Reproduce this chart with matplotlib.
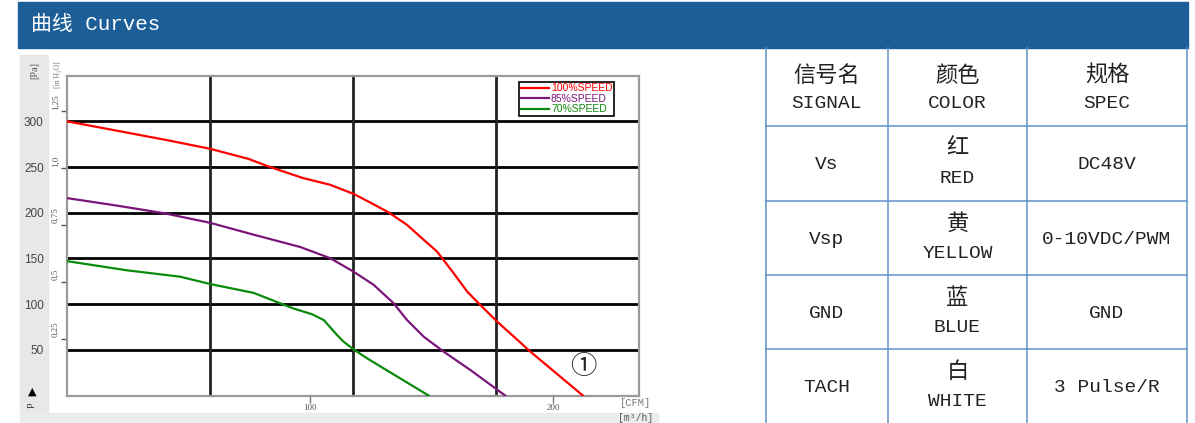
import matplotlib
matplotlib.use("Agg")
import matplotlib.pyplot as plt
import matplotlib.transforms as mtransforms
from matplotlib.patches import Rectangle

plt.rcParams['font.family'] = ['Liberation Mono', 'Noto Sans CJK SC', 'DejaVu Sans']

CFM_PER_M3H = 1 / 1.699
PA_PER_INH2O = 249.09

# curve data (airflow in CFM, pressure in Pa)
red_cfm = [0, 20, 40, 58.8, 74.5, 83.5, 97, 108.2, 117.8, 124.7, 132.3, 139.8, 146.7, 152.2,
           159, 164.6, 170, 176.9, 183.8, 190.6, 212.2]
red_pa = [300, 290, 280, 270, 259, 250, 238, 230.6, 220.7, 211.2, 200.3, 186.8, 170.4, 157.5,
          133.9, 113.7, 99.1, 80.9, 64.4, 48, 0]
purple_cfm = [0, 20, 39.6, 58.8, 75.3, 95.9, 108.2, 117.8, 126.1, 134.3, 139.8, 146.7, 154.9, 165.9, 180.2]
purple_pa = [216, 208, 199.6, 189, 177, 162.5, 150.3, 135.6, 121.1, 101, 82.7, 64.4, 48, 27.9, 0]
green_cfm = [0, 24.6, 46.5, 58.8, 76.7, 93.1, 100.7, 105.6, 108.2, 111, 113.7, 118.1, 123.4, 129, 148.7]
green_pa = [147, 137, 130, 122, 112.3, 95.2, 89, 82.5, 74.7, 66.3, 58.9, 50, 40.7, 31.6, 0]
series_labels = ['100%SPEED', '85%SPEED', '70%SPEED']
series_colors = ['#ff0000', '#7a167a', '#0a8a0a']

pa_ticks = [50, 100, 150, 200, 250, 300]
inh2o_ticks = [0.25, 0.5, 0.75, 1.0, 1.25]
inh2o_labels = ['0,25', '0,5', '0,75', '1,0', '1,25']
m3h_grid = [100, 200, 300]
cfm_ticks = [100, 200]

# wiring table
head_cn = ['信号名', '颜色', '规格']
head_en = ['SIGNAL', 'COLOR', 'SPEC']
signal = ['Vs', 'Vsp', 'GND', 'TACH']
color_cn = ['红', '黄', '蓝', '白']
color_en = ['RED', 'YELLOW', 'BLUE', 'WHITE']
spec = ['DC48V', '0-10VDC/PWM', 'GND', '3 Pulse/R']

W, H = 1195, 423
col_edges = [766, 888, 1027, 1187]
row_edges = [50, 126, 201, 275, 349, 423]
line_col = '#5f92c8'
txt_col = '#222222'


def fig_rect(x0, y0, x1, y1):
    return [x0 / W, 1 - y1 / H, (x1 - x0) / W, (y1 - y0) / H]


fig = plt.figure(figsize=(W / 100, H / 100), dpi=100)
fig.patch.set_facecolor('white')

bg = fig.add_axes([0, 0, 1, 1])
bg.set_xlim(0, W)
bg.set_ylim(H, 0)
bg.axis('off')
bg.set_zorder(0)

# header bar
bg.add_patch(Rectangle((18, 2), 1170, 46, color='#1c5e97'))
bg.text(31, 24, '曲线 Curves', color='white', fontsize=15, va='center', ha='left')

# grey bands of the chart picture
bg.add_patch(Rectangle((20, 55), 28, 358, color='#e8e8e8'))
bg.add_patch(Rectangle((20, 413), 638, 10, color='#ececec'))

serif = ['Liberation Serif', 'DejaVu Serif']
bg.text(35, 62, '[Pa]', rotation=90, ha='center', va='top', fontsize=7.5, family=serif, color='#555')
bg.text(58, 61, '[in H₂O]', rotation=90, ha='center', va='top', fontsize=5.5, family=serif, color='#777')
bg.text(32, 392, '▲', ha='center', va='center', fontsize=8, family='DejaVu Sans', color='black')
bg.text(32, 405, 'P', rotation=90, ha='center', va='center', fontsize=7, family=serif, color='#333')
bg.text(636, 403, '[CFM]', ha='center', va='center', fontsize=7.5, color='#777')
bg.text(636, 418, '[m³/h]', ha='center', va='center', fontsize=7, color='#555')

# table
for x in col_edges:
    bg.plot([x, x], [48, H], color=line_col, lw=1.1)
for y in row_edges[1:-1]:
    bg.plot([col_edges[0], col_edges[-1]], [y, y], color=line_col, lw=1.1)

col_mid = [(col_edges[i] + col_edges[i + 1]) / 2 for i in range(3)]
row_mid = [(row_edges[i] + row_edges[i + 1]) / 2 for i in range(5)]
for i in range(3):
    bg.text(col_mid[i], row_mid[0] - 12, head_cn[i], ha='center', va='center', fontsize=16, color=txt_col)
    bg.text(col_mid[i], row_mid[0] + 15, head_en[i], ha='center', va='center', fontsize=14, color=txt_col)
for r in range(4):
    ym = row_mid[r + 1]
    bg.text(col_mid[0], ym + 1, signal[r], ha='center', va='center', fontsize=14, color=txt_col)
    bg.text(col_mid[1], ym - 14, color_cn[r], ha='center', va='center', fontsize=16, color=txt_col)
    bg.text(col_mid[1], ym + 15, color_en[r], ha='center', va='center', fontsize=14, color=txt_col)
    bg.text(col_mid[2], ym + 1, spec[r], ha='center', va='center', fontsize=14, color=txt_col)

# fan curve chart
ax = fig.add_axes(fig_rect(67.3, 75.7, 639.3, 395.5))
ax.set_zorder(1)
ax.set_facecolor('white')
ax.set_xlim(0, 400 * CFM_PER_M3H)
ax.set_ylim(0, 350)

ax.set_yticks(pa_ticks)
ax.grid(axis='y', color='black', lw=2)
for v in m3h_grid:
    ax.axvline(v * CFM_PER_M3H, color='#222', lw=2)
ax.tick_params(axis='y', length=0, pad=17, labelsize=8.5, labelcolor='#444')
for lab in ax.get_yticklabels():
    lab.set_fontfamily('Liberation Sans')

ax.set_xticks(cfm_ticks)
ax.tick_params(axis='x', length=5, width=1, color='#777', labelsize=6.5, labelcolor='#555', pad=1)
for lab in ax.get_xticklabels():
    lab.set_fontfamily('Liberation Serif')

for s in ax.spines.values():
    s.set_color('#9a9a9a')
    s.set_linewidth(1.6)

sec = ax.secondary_yaxis('left', functions=(lambda p: p / PA_PER_INH2O, lambda i: i * PA_PER_INH2O))
sec.set_yticks(inh2o_ticks)
sec.tick_params(length=4, width=1, color='#555', labelleft=False)
sec.spines['left'].set_visible(False)
trans = mtransforms.blended_transform_factory(ax.transAxes, ax.transData)
for v, lab in zip(inh2o_ticks, inh2o_labels):
    ax.text(-0.013, v * PA_PER_INH2O + 1.5, lab, transform=trans, rotation=90, ha='right', va='bottom',
            fontsize=6.5, family=serif, color='#555', clip_on=False)

for xs, ys, lab, c in zip([red_cfm, purple_cfm, green_cfm], [red_pa, purple_pa, green_pa],
                          series_labels, series_colors):
    ax.plot(xs, ys, color=c, lw=1.6, label=lab, zorder=3, solid_joinstyle='round')

ax.text(212.5, 32, '①', ha='center', va='center', fontsize=19, family='Noto Sans CJK SC', color='#222')

leg = ax.legend(loc='upper right', bbox_to_anchor=(0.956, 0.981), borderaxespad=0,
                prop={'family': 'Liberation Sans', 'size': 7.5}, labelcolor='linecolor',
                fancybox=False, edgecolor='black', framealpha=1, handlelength=2.7,
                handletextpad=0.2, labelspacing=0.05, borderpad=0.15)
leg.get_frame().set_linewidth(1.2)

fig.savefig('out.png', dpi=100)
